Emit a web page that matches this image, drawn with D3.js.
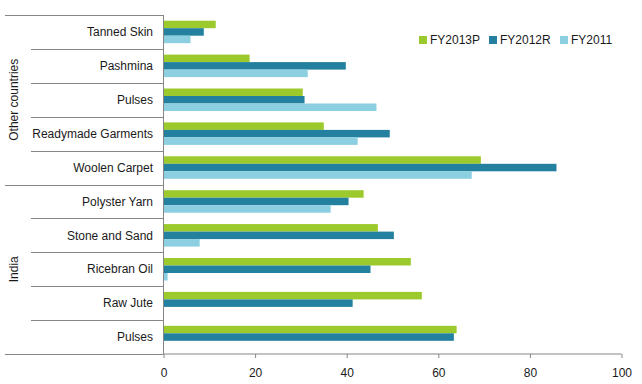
<!DOCTYPE html>
<html>
<head>
<meta charset="utf-8">
<script src="https://cdn.jsdelivr.net/npm/d3@7"></script>
<style>
	body{margin:0;background:#fff;}
	svg text{font-family:"Liberation Sans",Arial,sans-serif;font-size:12px;fill:#1a1a1a;}
</style>
</head>
<body>
<svg id="chart" width="642" height="384"></svg>
<script>
(function(){

	var categories = ["Tanned Skin","Pashmina","Pulses","Readymade Garments","Woolen Carpet",
		"Polyster Yarn","Stone and Sand","Ricebran Oil","Raw Jute","Pulses"];
	var groups = ["Other countries","Other countries","Other countries","Other countries","Other countries",
		"India","India","India","India","India"];
	var seriesNames = ["FY2013P","FY2012R","FY2011"];
	var fy2013p = [11.4, 18.8, 30.4, 35.0, 69.3, 43.7, 46.8, 54.0, 56.4, 64.0];
	var fy2012r = [8.8, 39.8, 30.8, 49.4, 85.8, 40.4, 50.3, 45.2, 41.3, 63.4];
	var fy2011  = [5.9, 31.5, 46.5, 42.4, 67.3, 36.5, 7.9, 0.9, 0, 0];
	var xTicks = [0, 20, 40, 60, 80, 100];

	var colors = ["#9cc92b","#23819f","#8ccfe0"];
	var series = [fy2013p, fy2012r, fy2011];

	var svg = d3.select("#chart");
	var M = {left:163.5, right:621.5, top:15, bottom:354};

	var x = d3.scaleLinear().domain([0,100]).range([M.left, M.right]);
	var y = d3.scaleBand().domain(d3.range(categories.length)).range([M.top, M.bottom]);
	var inner = d3.scaleBand().domain(d3.range(series.length)).range([0, 22.5]);
	var off = (y.bandwidth() - 22.5)/2;

	// bars
	series.forEach(function(vals, s){
		svg.append("g").selectAll("rect").data(vals).enter().append("rect")
			.attr("x", x(0))
			.attr("y", function(d,i){return y(i) + off + inner(s);})
			.attr("height", inner.bandwidth())
			.attr("width", function(d){return x(d) - x(0);})
			.attr("fill", colors[s]);
	});

	var axisCol = "#868686";

	// x axis
	var xAxis = d3.axisBottom(x).tickValues(xTicks).tickSize(4).tickFormat(d3.format("d"));
	var gx = svg.append("g").attr("transform","translate(0,"+M.bottom+")").call(xAxis);
	gx.select(".domain").attr("stroke", axisCol).attr("d","M"+x(0)+",0H"+x(100));
	gx.selectAll(".tick line").attr("stroke", axisCol);
	gx.selectAll(".tick text").attr("dy","1.3em").style("font-size","12px").attr("fill","#1a1a1a");

	// left axis line
	svg.append("line").attr("x1",x(0)).attr("x2",x(0)).attr("y1",M.top).attr("y2",M.bottom)
		.attr("stroke",axisCol);

	// category separators
	var seps = d3.range(categories.length + 1);
	svg.append("g").selectAll("line").data(seps).enter().append("line")
		.attr("x1", function(i){
			return (i === 0 || i === categories.length || groups[i] !== groups[i-1]) ? 5 : 31;
		})
		.attr("x2", x(0))
		.attr("y1", function(i){return Math.round(i < categories.length ? y(i) : M.bottom) + 0.5;})
		.attr("y2", function(i){return Math.round(i < categories.length ? y(i) : M.bottom) + 0.5;})
		.attr("stroke", axisCol);

	// category labels
	svg.append("g").selectAll("text").data(categories).enter().append("text")
		.attr("x", 153)
		.attr("y", function(d,i){return y(i) + y.bandwidth()/2;})
		.attr("dy","0.35em")
		.attr("text-anchor","end")
		.text(function(d){return d;});

	// group labels
	var groupNames = Array.from(new Set(groups));
	groupNames.forEach(function(g){
		var idx = groups.map(function(d,i){return d===g ? i : -1;}).filter(function(i){return i>=0;});
		var cy = (y(idx[0]) + y(idx[idx.length-1]) + y.bandwidth())/2;
		svg.append("text")
			.attr("transform","translate(18,"+cy+") rotate(-90)")
			.attr("text-anchor","middle")
			.text(g);
	});

	// legend
	var legX = [419, 489, 560];
	var leg = svg.append("g").selectAll("g").data(seriesNames).enter().append("g")
		.attr("transform", function(d,i){return "translate("+legX[i]+",36)";});
	leg.append("rect").attr("width",8).attr("height",8).attr("fill", function(d,i){return colors[i];});
	leg.append("text").attr("x",11).attr("y",4).attr("dy","0.35em").text(function(d){return d;});

})();
</script>
</body>
</html>
